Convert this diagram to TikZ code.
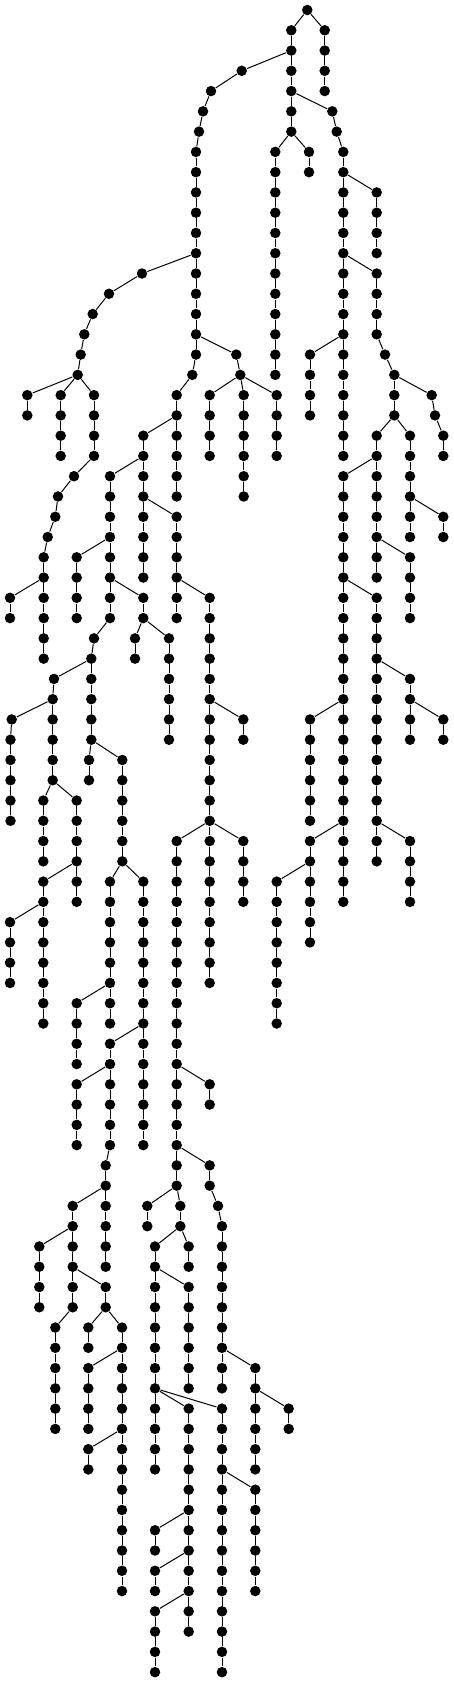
\documentclass[tikz,border=0pt]{standalone}
\usepackage{tikz}

% a vertical run of dots: name, x, first level, last level
\newcommand{\nodechain}[4]{%
  \foreach \k [evaluate=\k as \j using int(\k-1)] in {#3,...,#4} {
    \node[dot] (#1-\k) at (#2,\k) {};
    \ifnum\k>#3 \draw (#1-\j) -- (#1-\k); \fi
  }
}

\begin{document}
\begin{tikzpicture}[
            x = 1pt, % horizontal unit
            y = -20.27pt, % one level down
            line width = 1pt % edge style
        ]

        \tikzstyle{dot}=[
            circle,
            fill = black,
            inner sep = 0pt,
            minimum size = 10.5pt
        ]

        \useasboundingbox (0,-0.4933) rectangle (454,82.487);

        % single nodes
        \node[dot] (r-0) at (307.3,0) {};
        \node[dot] (n-3) at (241.7,3) {};
        \node[dot] (n-4) at (211,4) {};
        \node[dot] (n-5) at (203,5) {};
        \node[dot] (n-6) at (199,6) {};
        \node[dot] (m-18) at (192.3,18) {};
        \node[dot] (h-13) at (142,13) {};
        \node[dot] (h-14) at (109,14) {};
        \node[dot] (h-15) at (92.7,15) {};
        \node[dot] (h-16) at (84.3,16) {};
        \node[dot] (h-17) at (80.7,17) {};
        \node[dot] (h-18) at (77.7,18) {};
        \node[dot] (hd-23) at (74,23) {};
        \node[dot] (hd-24) at (58,24) {};
        \node[dot] (hd-25) at (55.3,25) {};
        \node[dot] (hd-26) at (47.7,26) {};
        \node[dot] (g-17) at (236.3,17) {};
        \node[dot] (g-18) at (240.3,18) {};
        \node[dot] (pi-59) at (218,59) {};
        \node[dot] (kf-31) at (94,31) {};
        \node[dot] (kh-33) at (54,33) {};
        \node[dot] (kj-35) at (11.7,35) {};
        \node[dot] (qa-5) at (332.3,5) {};
        \node[dot] (qa-6) at (336.7,6) {};
        \node[dot] (qd-17) at (385,17) {};
        \node[dot] (qd-18) at (394.3,18) {};
        \node[dot] (qg-19) at (431.7,19) {};
        \node[dot] (qg-20) at (435,20) {};

        % chains
        \nodechain{a}{291.3}{1}{6}
        \nodechain{b}{324.7}{1}{4}
        \nodechain{m}{196}{7}{17}
        \nodechain{u}{176.7}{19}{24}
        \nodechain{ha}{27.3}{19}{20}
        \nodechain{hb}{60.7}{19}{22}
        \nodechain{hc}{94}{19}{22}
        \nodechain{he}{43.7}{27}{32}
        \nodechain{hf}{10}{29}{30}
        \nodechain{ga}{209.7}{19}{22}
        \nodechain{gb}{243.7}{19}{24}
        \nodechain{gc}{276.7}{19}{22}
        \nodechain{p}{143.3}{21}{28}
        \nodechain{pa}{176.7}{25}{30}
        \nodechain{pb}{209.7}{29}{40}
        \nodechain{pc}{243.3}{35}{36}
        \nodechain{pd}{176.7}{41}{58}
        \nodechain{pe}{209.7}{41}{48}
        \nodechain{pf}{243.3}{41}{44}
        \nodechain{pg}{209.7}{53}{54}
        \nodechain{ph}{209.7}{57}{58}
        \nodechain{pj}{222}{60}{68}
        \nodechain{pk}{255.3}{67}{72}
        \nodechain{pl}{288.7}{69}{70}
        \nodechain{pm}{147.3}{59}{60}
        \nodechain{pn}{180.3}{59}{60}
        \nodechain{po}{188.7}{61}{62}
        \nodechain{pp}{155}{61}{72}
        \nodechain{pq}{188.7}{63}{68}
        \nodechain{pr}{188.7}{69}{80}
        \nodechain{ps}{222}{69}{82}
        \nodechain{pt}{255.3}{73}{78}
        \nodechain{pu}{155}{75}{76}
        \nodechain{pv}{155}{77}{78}
        \nodechain{pw}{155}{79}{82}
        \nodechain{k}{110}{23}{30}
        \nodechain{ka}{76.7}{27}{30}
        \nodechain{kb}{143.3}{29}{30}
        \nodechain{kc}{135}{31}{32}
        \nodechain{kd}{169}{31}{36}
        \nodechain{kg}{91.3}{32}{36}
        \nodechain{ki}{52.7}{34}{38}
        \nodechain{kk}{10.5}{36}{40}
        \nodechain{kl}{43.3}{39}{42}
        \nodechain{km}{76.7}{39}{44}
        \nodechain{kn}{43.3}{43}{50}
        \nodechain{ko}{10}{45}{48}
        \nodechain{kp}{89}{37}{38}
        \nodechain{kq}{122.3}{37}{42}
        \nodechain{kr}{110}{43}{50}
        \nodechain{ks}{76.7}{49}{52}
        \nodechain{kt}{143.3}{43}{56}
        \nodechain{ku}{110}{51}{56}
        \nodechain{kv}{105.7}{57}{62}
        \nodechain{kw}{76.7}{53}{56}
        \nodechain{kx}{72.7}{59}{64}
        \nodechain{ky}{39.3}{61}{64}
        \nodechain{kz}{55.3}{65}{70}
        \nodechain{la}{105.7}{63}{64}
        \nodechain{lb}{88.3}{65}{66}
        \nodechain{lc}{122}{65}{78}
        \nodechain{ld}{88.3}{67}{70}
        \nodechain{le}{88.3}{71}{72}
        \nodechain{s}{309}{7}{8}
        \nodechain{t}{275.3}{7}{18}
        \nodechain{q}{343.3}{7}{22}
        \nodechain{qb}{376.7}{9}{12}
        \nodechain{qc}{376.7}{13}{16}
        \nodechain{qe}{394.3}{19}{20}
        \nodechain{qf}{310}{17}{20}
        \nodechain{qh}{443.3}{21}{22}
        \nodechain{qi}{376.7}{21}{28}
        \nodechain{qj}{410}{21}{26}
        \nodechain{qk}{443.3}{25}{26}
        \nodechain{ql}{410}{27}{30}
        \nodechain{qm}{343.3}{23}{40}
        \nodechain{qn}{376.7}{29}{42}
        \nodechain{qo}{410}{33}{36}
        \nodechain{qp}{443.3}{35}{36}
        \nodechain{qq}{410}{41}{44}
        \nodechain{qr}{310}{35}{40}
        \nodechain{qs}{310}{41}{46}
        \nodechain{qt}{343.3}{41}{44}
        \nodechain{qu}{276.7}{43}{50}

        % parent links
        \foreach \from/\to in {r-0/a-1, r-0/b-1,
            a-2/n-3, n-3/n-4, n-4/n-5, n-5/n-6, n-6/m-7, m-17/m-18, m-18/u-19,
            m-12/h-13, h-13/h-14, h-14/h-15, h-15/h-16, h-16/h-17, h-17/h-18,
            h-18/ha-19, h-18/hb-19, h-18/hc-19, hc-22/hd-23, hd-23/hd-24,
            hd-24/hd-25, hd-25/hd-26, hd-26/he-27, he-28/hf-29,
            m-16/g-17, g-17/g-18, g-18/ga-19, g-18/gb-19, g-18/gc-19,
            u-20/p-21, p-24/pa-25, pa-28/pb-29, pb-34/pc-35, pb-40/pd-41,
            pb-40/pe-41, pb-40/pf-41, pd-52/pg-53, pd-56/ph-57, ph-58/pi-59,
            pi-59/pj-60, pj-66/pk-67, pk-68/pl-69, pd-58/pm-59, pd-58/pn-59,
            pn-60/po-61, pn-60/pp-61, pp-62/pq-63, pp-68/pr-69, pp-68/ps-69,
            ps-72/pt-73, pr-74/pu-75, pr-76/pv-77, pr-78/pw-79,
            p-22/k-23, k-26/ka-27, k-28/kb-29, kb-30/kc-31, kb-30/kd-31,
            k-30/kf-31, kf-31/kg-32, kg-32/kh-33, kh-33/ki-34, ki-34/kj-35,
            kj-35/kk-36, ki-38/kl-39, ki-38/km-39, km-42/kn-43, kn-44/ko-45,
            kg-36/kp-37, kg-36/kq-37, kq-42/kr-43, kr-48/ks-49, kq-42/kt-43,
            kt-50/ku-51, ku-56/kv-57, ku-52/kw-53, kv-58/kx-59, kx-60/ky-61,
            kx-64/kz-65, kx-62/la-63, la-64/lb-65, la-64/lc-65, lc-66/ld-67,
            lc-70/le-71,
            a-6/s-7, a-6/t-7, a-4/qa-5, qa-5/qa-6, qa-6/q-7, q-8/qb-9,
            q-12/qc-13, qc-16/qd-17, qd-17/qd-18, qd-18/qe-19, q-16/qf-17,
            qd-18/qg-19, qg-19/qg-20, qg-20/qh-21, qe-20/qi-21, qe-20/qj-21,
            qj-24/qk-25, qi-26/ql-27, qi-22/qm-23, qm-28/qn-29, qn-32/qo-33,
            qo-34/qp-35, qn-40/qq-41, qm-34/qr-35, qm-40/qs-41, qm-40/qt-41,
            qs-42/qu-43}
            \draw (\from) -- (\to);
    \end{tikzpicture}
\end{document}
